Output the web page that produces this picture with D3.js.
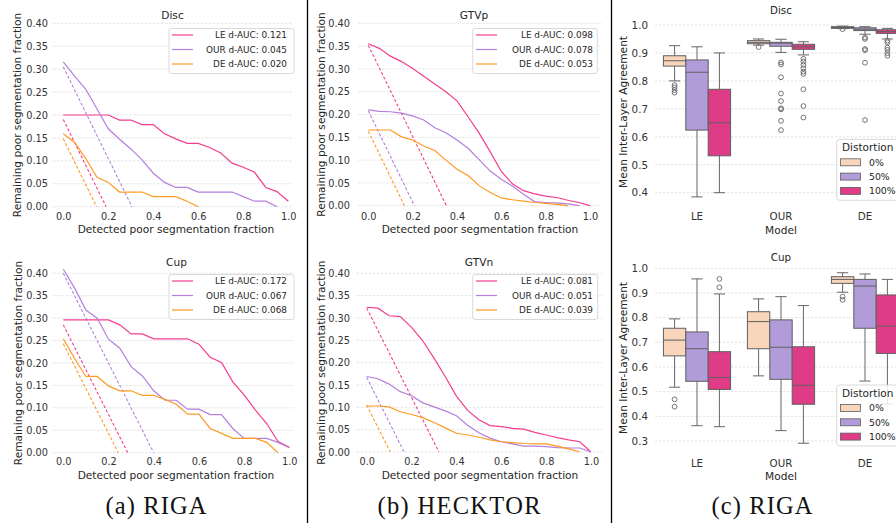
<!DOCTYPE html>
<html>
<head>
<meta charset="utf-8">
<script src="https://cdn.jsdelivr.net/npm/d3@7"></script>
<style>
body { margin: 0; background: #fff; }
svg { display: block; }
text { font-family: "DejaVu Sans", sans-serif; fill: #262626; }
</style>
</head>
<body>
<div id="main"></div>
<script>
// ---- data: detection curves (a) and (b) ----
var fracs = [0, 0.05, 0.1, 0.15, 0.2, 0.25, 0.3, 0.35, 0.4, 0.45, 0.5, 0.55, 0.6, 0.65, 0.7, 0.75, 0.8, 0.85, 0.9, 0.95, 1.0];
var lineTicksY = [0, 0.05, 0.1, 0.15, 0.2, 0.25, 0.3, 0.35, 0.4];
var lineTicksX = [0, 0.2, 0.4, 0.6, 0.8, 1.0];
var seriesNames = ['LE', 'OUR', 'DE'];
var seriesColors = ['#f53d8f', '#b57fdc', '#ff9a22'];

var discLE  = [0.200, 0.200, 0.200, 0.200, 0.200, 0.189, 0.189, 0.179, 0.179, 0.159, 0.148, 0.138, 0.138, 0.129, 0.117, 0.095, 0.086, 0.075, 0.042, 0.033, 0.012];
var discOUR = [0.316, 0.285, 0.256, 0.213, 0.170, 0.147, 0.126, 0.102, 0.073, 0.053, 0.042, 0.042, 0.032, 0.032, 0.032, 0.032, 0.022, 0.012, 0.012, 0.000];
var discDE  = [0.159, 0.140, 0.105, 0.064, 0.053, 0.032, 0.032, 0.032, 0.022, 0.022, 0.022, 0.012, 0.000];
var discIdeal = [0.190, 0.305, 0.148];
var discAuc = ['0.121', '0.045', '0.020'];

var cupLE  = [0.296, 0.296, 0.296, 0.296, 0.296, 0.285, 0.265, 0.265, 0.254, 0.254, 0.254, 0.254, 0.242, 0.213, 0.201, 0.158, 0.129, 0.095, 0.065, 0.025, 0.012];
var cupOUR = [0.409, 0.367, 0.318, 0.300, 0.253, 0.233, 0.192, 0.171, 0.138, 0.117, 0.117, 0.097, 0.097, 0.085, 0.085, 0.054, 0.032, 0.032, 0.032, 0.023, 0.011];
var cupDE  = [0.254, 0.210, 0.170, 0.170, 0.149, 0.138, 0.138, 0.128, 0.128, 0.119, 0.108, 0.086, 0.086, 0.054, 0.043, 0.032, 0.032, 0.032, 0.023, 0.000];
var cupIdeal = [0.285, 0.400, 0.243];
var cupAuc = ['0.172', '0.067', '0.068'];

var gtvpLE  = [0.355, 0.345, 0.328, 0.316, 0.301, 0.284, 0.267, 0.250, 0.230, 0.195, 0.159, 0.118, 0.075, 0.048, 0.033, 0.026, 0.021, 0.018, 0.012, 0.007, 0.000];
var gtvpOUR = [0.210, 0.207, 0.206, 0.203, 0.197, 0.188, 0.171, 0.160, 0.144, 0.126, 0.101, 0.076, 0.058, 0.043, 0.025, 0.009, 0.007, 0.006, 0.004, 0.000];
var gtvpDE  = [0.166, 0.166, 0.166, 0.151, 0.144, 0.131, 0.121, 0.100, 0.080, 0.066, 0.044, 0.029, 0.017, 0.013, 0.010, 0.007, 0.005, 0.003, 0.000];
var gtvpIdeal = [0.352, 0.208, 0.163];
var gtvpAuc = ['0.098', '0.078', '0.053'];

var gtvnLE  = [0.324, 0.322, 0.305, 0.303, 0.279, 0.249, 0.210, 0.169, 0.125, 0.093, 0.072, 0.059, 0.057, 0.053, 0.051, 0.044, 0.038, 0.032, 0.027, 0.023, 0.000];
var gtvnOUR = [0.169, 0.164, 0.152, 0.135, 0.126, 0.110, 0.101, 0.092, 0.081, 0.060, 0.043, 0.031, 0.023, 0.018, 0.013, 0.013, 0.012, 0.010, 0.009, 0.009, 0.000];
var gtvnDE  = [0.103, 0.103, 0.101, 0.090, 0.084, 0.077, 0.066, 0.054, 0.042, 0.038, 0.033, 0.027, 0.023, 0.021, 0.019, 0.018, 0.018, 0.013, 0.007, 0.000];
var gtvnIdeal = [0.322, 0.167, 0.105];
var gtvnAuc = ['0.081', '0.051', '0.039'];

// ---- data: box plots (c), [low whisker, q1, median, q3, high whisker] for LE, OUR, DE ----
var models = ['LE', 'OUR', 'DE'];
var distortions = ['0%', '50%', '100%'];
var boxColors = ['#f9d5bc', '#b19cd9', '#de3c87'];

var discBox0   = [[0.800, 0.853, 0.872, 0.890, 0.926], [0.928, 0.933, 0.938, 0.944, 0.950], [0.987, 0.988, 0.991, 0.994, 0.996]];
var discBox50  = [[0.385, 0.624, 0.831, 0.875, 0.922], [0.902, 0.924, 0.935, 0.938, 0.949], [0.967, 0.980, 0.985, 0.990, 0.994]];
var discBox100 = [[0.400, 0.532, 0.650, 0.770, 0.900], [0.893, 0.913, 0.922, 0.931, 0.940], [0.950, 0.970, 0.976, 0.983, 0.988]];
var discOut0   = [[0.785, 0.777, 0.767, 0.758], [0.921], [0.985]];
var discOut50  = [[], [0.866, 0.859, 0.813, 0.755, 0.728, 0.702, 0.698, 0.657, 0.624], [0.955, 0.950, 0.914, 0.910, 0.865, 0.660]];
var discOut100 = [[], [0.879, 0.869, 0.857, 0.845, 0.833, 0.825, 0.770, 0.710, 0.669], [0.944, 0.938, 0.919, 0.911, 0.899, 0.890]];
var discBoxTicks = [0.4, 0.5, 0.6, 0.7, 0.8, 0.9, 1.0];

var cupBox0   = [[0.518, 0.645, 0.709, 0.757, 0.795], [0.564, 0.674, 0.784, 0.824, 0.876], [0.903, 0.939, 0.955, 0.966, 0.982]];
var cupBox50  = [[0.362, 0.542, 0.674, 0.742, 0.957], [0.342, 0.550, 0.680, 0.791, 0.885], [0.543, 0.757, 0.928, 0.955, 0.977]];
var cupBox100 = [[0.358, 0.509, 0.557, 0.662, 0.896], [0.291, 0.449, 0.526, 0.682, 0.849], [0.450, 0.655, 0.766, 0.892, 0.955]];
var cupOut0   = [[0.469, 0.439], [], [0.885, 0.872]];
var cupOut50  = [[], [], []];
var cupOut100 = [[0.957, 0.923], [], []];
var cupBoxTicks = [0.3, 0.4, 0.5, 0.6, 0.7, 0.8, 0.9, 1.0];

var svg = d3.select('#main').append('svg')
	.attr('width', 896)
	.attr('height', 523);

var gridColor = '#dcdcdc';

// Line chart panel with ideal dashed lines
function linePanel(p){
	var x = d3.scaleLinear().domain([0, 1]).range([p.x0, p.x1]);
	var y = d3.scaleLinear().domain([0, 0.4]).range([p.yZero, p.yTop]);
	var g = svg.append('g');

	g.selectAll('line.grid')
		.data(lineTicksY)
		.enter()
		.append('line')
		.attr('x1', x(-0.045)).attr('x2', x(p.xEnd))
		.attr('y1', function(d){ return y(d); })
		.attr('y2', function(d){ return y(d); })
		.attr('stroke', gridColor)
		.attr('stroke-width', 0.8)
		.attr('stroke-dasharray', '2.5,1.5');

	var yAxis = g.append('g')
		.attr('transform', 'translate(' + p.tickRight + ',0)')
		.call(d3.axisLeft(y).tickValues(lineTicksY).tickFormat(d3.format('.2f')).tickSize(0).tickPadding(0));
	var xAxis = g.append('g')
		.attr('transform', 'translate(0,' + (p.xTickY - 3.4) + ')')
		.call(d3.axisBottom(x).tickValues(lineTicksX).tickFormat(d3.format('.1f')).tickSize(0).tickPadding(0));
	[yAxis, xAxis].forEach(function(a){
		a.select('.domain').remove();
		a.attr('font-family', null).attr('font-size', null);
		a.selectAll('text').style('font-size', '9.75px').style('fill', '#333');
	});

	g.append('text').text(p.title)
		.attr('x', p.titleX).attr('y', p.titleY)
		.attr('text-anchor', 'middle').style('font-size', '10.6px');
	g.append('text').text('Detected poor segmentation fraction')
		.attr('x', p.xLabelX).attr('y', p.xLabelY)
		.attr('text-anchor', 'middle').style('font-size', '10.6px');
	g.append('text').text('Remaining poor segmentation fraction')
		.attr('transform', 'translate(' + (p.yLabelX + 3.8) + ',' + ((p.yZero + p.yTop) / 2) + ') rotate(-90)')
		.attr('text-anchor', 'middle').style('font-size', '10.6px');

	var line = d3.line()
		.x(function(d, i){ return x(fracs[i]); })
		.y(function(d){ return y(d); });

	p.ideal.forEach(function(v, i){
		g.append('path')
			.attr('d', d3.line().x(function(d){ return x(d[0]); }).y(function(d){ return y(d[1]); })([[0, v], [v, 0]]))
			.attr('fill', 'none')
			.attr('stroke', seriesColors[i])
			.attr('stroke-width', 1.1)
			.attr('stroke-dasharray', '3,2');
	});
	p.data.forEach(function(vals, i){
		g.append('path')
			.attr('d', line(vals))
			.attr('fill', 'none')
			.attr('stroke', seriesColors[i])
			.attr('stroke-width', 1.2);
	});

	// legend
	var leg = g.append('g');
	leg.append('rect')
		.attr('x', p.legX).attr('y', p.legY)
		.attr('width', p.legW).attr('height', 45)
		.attr('rx', 2.5)
		.attr('fill', '#fff').attr('fill-opacity', 0.8)
		.attr('stroke', '#cfcfcf').attr('stroke-width', 0.8);
	seriesNames.forEach(function(n, i){
		var cy = p.legY + 6.5 + i * 14.5;
		leg.append('line')
			.attr('x1', p.handle[0]).attr('x2', p.handle[1])
			.attr('y1', cy).attr('y2', cy)
			.attr('stroke', seriesColors[i]).attr('stroke-width', 1.2);
		leg.append('text').text(n + ' d-AUC: ' + p.auc[i])
			.attr('x', p.textEnd).attr('y', cy + 3.2)
			.attr('text-anchor', 'end').style('font-size', '8.9px');
	});
}

// Box plot panel, hue = distortion level
function boxPanel(p){
	var x = d3.scaleBand().domain(models).range([655, 907]);
	var xh = d3.scaleBand().domain(distortions).range([0, x.bandwidth()]).paddingOuter(0.375);
	var y = d3.scaleLinear().domain([p.yMin, 1.0]).range([p.yMinPx, p.yOnePx]);
	var g = svg.append('g');

	g.selectAll('line.grid')
		.data(p.ticks)
		.enter()
		.append('line')
		.attr('x1', 655).attr('x2', 907)
		.attr('y1', function(d){ return y(d); })
		.attr('y2', function(d){ return y(d); })
		.attr('stroke', gridColor)
		.attr('stroke-width', 0.8)
		.attr('stroke-dasharray', '2.5,1.5');

	var yAxis = g.append('g')
		.attr('transform', 'translate(648,0)')
		.call(d3.axisLeft(y).tickValues(p.ticks).tickFormat(d3.format('.1f')).tickSize(0).tickPadding(0));
	var xAxis = g.append('g')
		.attr('transform', 'translate(0,' + (p.catY - 3.6) + ')')
		.call(d3.axisBottom(x).tickSize(0).tickPadding(0));
	[yAxis, xAxis].forEach(function(a){
		a.select('.domain').remove();
		a.attr('font-family', null).attr('font-size', null);
		a.selectAll('text').style('font-size', '10.3px').style('fill', '#333');
	});

	g.append('text').text(p.title)
		.attr('x', 781).attr('y', p.titleY)
		.attr('text-anchor', 'middle').style('font-size', '10.3px');
	g.append('text').text('Model')
		.attr('x', 781).attr('y', p.modelY)
		.attr('text-anchor', 'middle').style('font-size', '10.6px');
	g.append('text').text('Mean Inter-Layer Agreement')
		.attr('transform', 'translate(' + (623 + 3.8) + ',' + p.yLabelY + ') rotate(-90)')
		.attr('text-anchor', 'middle').style('font-size', '10.6px');

	var lineColor = '#666';
	p.boxes.forEach(function(stats, h){
		var w = xh.bandwidth();
		stats.forEach(function(s, m){
			var left = x(models[m]) + xh(distortions[h]);
			var cx = left + w / 2;
			var bg = g.append('g');
			bg.append('line').attr('x1', cx).attr('x2', cx).attr('y1', y(s[0])).attr('y2', y(s[1]))
				.attr('stroke', lineColor).attr('stroke-width', 1);
			bg.append('line').attr('x1', cx).attr('x2', cx).attr('y1', y(s[3])).attr('y2', y(s[4]))
				.attr('stroke', lineColor).attr('stroke-width', 1);
			[s[0], s[4]].forEach(function(v){
				bg.append('line').attr('x1', cx - w / 4).attr('x2', cx + w / 4)
					.attr('y1', y(v)).attr('y2', y(v))
					.attr('stroke', lineColor).attr('stroke-width', 1);
			});
			bg.append('rect')
				.attr('x', left).attr('width', w)
				.attr('y', y(s[3])).attr('height', Math.max(0.5, y(s[1]) - y(s[3])))
				.attr('fill', boxColors[h])
				.attr('stroke', '#5f5f5f').attr('stroke-width', 1);
			bg.append('line').attr('x1', left).attr('x2', left + w)
				.attr('y1', y(s[2])).attr('y2', y(s[2]))
				.attr('stroke', '#5f5f5f').attr('stroke-width', 1);
			bg.selectAll('circle')
				.data(p.outliers[h][m])
				.enter()
				.append('circle')
				.attr('cx', cx).attr('cy', function(d){ return y(d); })
				.attr('r', 2.4)
				.attr('fill', 'none')
				.attr('stroke', '#666').attr('stroke-width', 0.9);
		});
	});

	// legend
	var leg = g.append('g');
	leg.append('rect')
		.attr('x', 836.7).attr('y', p.legY)
		.attr('width', 80).attr('height', 61)
		.attr('rx', 3)
		.attr('fill', '#fff').attr('fill-opacity', 0.85)
		.attr('stroke', '#cfcfcf').attr('stroke-width', 0.8);
	leg.append('text').text('Distortion')
		.attr('x', 842).attr('y', p.legY + 11.8)
		.style('font-size', '10.5px');
	distortions.forEach(function(d, i){
		var cy = p.legY + 23 + i * 14.3;
		leg.append('rect')
			.attr('x', 840.5).attr('y', cy - 3.5)
			.attr('width', 20).attr('height', 7)
			.attr('fill', boxColors[i])
			.attr('stroke', '#5f5f5f').attr('stroke-width', 0.8);
		leg.append('text').text(d)
			.attr('x', 869).attr('y', cy + 3.3)
			.style('font-size', '9.3px');
	});
}

linePanel({ title: 'Disc', data: [discLE, discOUR, discDE], ideal: discIdeal, auc: discAuc,
	x0: 63.3, x1: 288.3, xEnd: 1.02, yZero: 206.7, yTop: 23.3, titleX: 172.5, titleY: 19,
	tickRight: 48, xTickY: 216.7, xLabelX: 176, xLabelY: 233, yLabelX: 17,
	legX: 169, legY: 28.5, legW: 125, handle: [172, 193], textEnd: 287 });
linePanel({ title: 'Cup', data: [cupLE, cupOUR, cupDE], ideal: cupIdeal, auc: cupAuc,
	x0: 63.3, x1: 289.3, xEnd: 1.02, yZero: 452.7, yTop: 273.3, titleX: 176.5, titleY: 266,
	tickRight: 48, xTickY: 461.7, xLabelX: 176, xLabelY: 479, yLabelX: 18,
	legX: 169, legY: 274.5, legW: 125, handle: [172, 193], textEnd: 287 });
linePanel({ title: 'GTVp', data: [gtvpLE, gtvpOUR, gtvpDE], ideal: gtvpIdeal, auc: gtvpAuc,
	x0: 368.3, x1: 590, xEnd: 1.05, yZero: 205.7, yTop: 23.3, titleX: 474, titleY: 19,
	tickRight: 350, xTickY: 216.7, xLabelX: 480, xLabelY: 233, yLabelX: 320.7,
	legX: 472.7, legY: 28.5, legW: 124.6, handle: [476, 497], textEnd: 593 });
linePanel({ title: 'GTVn', data: [gtvnLE, gtvnOUR, gtvnDE], ideal: gtvnIdeal, auc: gtvnAuc,
	x0: 366.7, x1: 591, xEnd: 1.05, yZero: 452, yTop: 273.3, titleX: 479, titleY: 266,
	tickRight: 350, xTickY: 461.7, xLabelX: 480, xLabelY: 479, yLabelX: 320.7,
	legX: 472.7, legY: 274.5, legW: 125, handle: [476, 497], textEnd: 593 });

boxPanel({ title: 'Disc', boxes: [discBox0, discBox50, discBox100], outliers: [discOut0, discOut50, discOut100],
	ticks: discBoxTicks, yMin: 0.4, yMinPx: 192.7, yOnePx: 25,
	titleY: 14, catY: 216.7, modelY: 234, yLabelY: 112, legY: 139.3 });
boxPanel({ title: 'Cup', boxes: [cupBox0, cupBox50, cupBox100], outliers: [cupOut0, cupOut50, cupOut100],
	ticks: cupBoxTicks, yMin: 0.3, yMinPx: 441, yOnePx: 268.3,
	titleY: 260.5, catY: 463.3, modelY: 479.5, yLabelY: 358, legY: 385 });

// captions
[['(a) RIGA', 156, 101], ['(b) HECKTOR', 459, 163], ['(c) RIGA', 762, 101]].forEach(function(c){
	svg.append('text').text(c[0])
		.attr('x', c[1]).attr('y', 514)
		.attr('text-anchor', 'middle')
		.attr('textLength', c[2]).attr('lengthAdjust', 'spacing')
		.style('font-family', '"Liberation Serif", serif')
		.style('font-size', '24.5px')
		.style('fill', '#111');
});

// vertical separators between subfigures
[307.5, 611.5].forEach(function(sx){
	svg.append('line')
		.attr('x1', sx).attr('x2', sx).attr('y1', 0).attr('y2', 523)
		.attr('stroke', '#000').attr('stroke-width', 1.3);
});
</script>
</body>
</html>
